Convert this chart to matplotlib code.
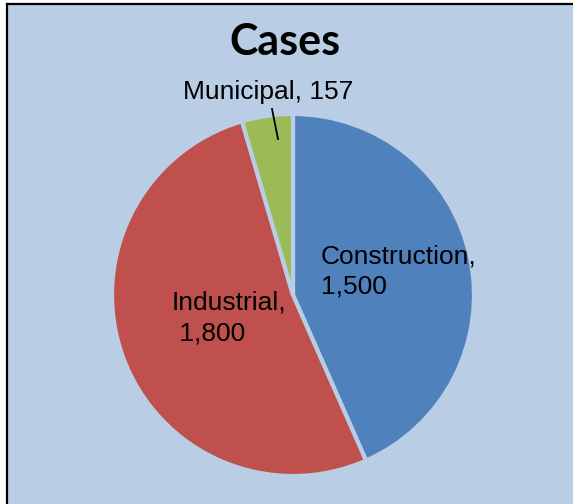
import matplotlib
matplotlib.use("Agg")
import matplotlib.pyplot as plt
from matplotlib.patches import Rectangle
from matplotlib.lines import Line2D

# data
categories = ["Construction", "Industrial", "Municipal"]
cases = [1500, 1800, 157]
value_labels = ["1,500", "1,800", "157"]
colors = ["#4F81BD", "#C0504D", "#9BBB59"]
bg = "#B9CDE5"

W, H = 573, 504
fig = plt.figure(figsize=(W / 100, H / 100), dpi=100)
fig.patch.set_facecolor("white")

# chart area background with border on top and left (right/bottom cut off)
fig.patches.append(Rectangle((7 / W, 0), 1, 1 - 4 / H, transform=fig.transFigure,
                             facecolor=bg, edgecolor="none", zorder=-5))
fig.lines.append(Line2D([7 / W, 1], [1 - 4 / H, 1 - 4 / H], transform=fig.transFigure,
                        color="black", lw=1.6, zorder=-4))
fig.lines.append(Line2D([7 / W, 7 / W], [0, 1 - 4 / H], transform=fig.transFigure,
                        color="black", lw=1.6, zorder=-4))

# pie axes: center (293, 295) px, radius 181 px
cx, cy, r = 293, 295, 181
ax = fig.add_axes([(cx - r) / W, (H - cy - r) / H, 2 * r / W, 2 * r / H])
ax.set_facecolor("none")
ax.pie(cases, colors=colors, startangle=90, counterclock=False, radius=1,
       wedgeprops=dict(edgecolor=bg, linewidth=3))
ax.set_xlim(-1, 1)
ax.set_ylim(-1, 1)
ax.set_aspect("equal")
ax.axis("off")

font = ["Liberation Sans", "DejaVu Sans"]
fs = 19
ax.text(0.155, 0.13, f"{categories[0]},\n{value_labels[0]}", ha="left", va="center",
        fontsize=fs, family=font, linespacing=1.32)
ax.text(-0.668, -0.127, f"{categories[1]},\n {value_labels[1]}", ha="left", va="center",
        fontsize=fs, family=font, linespacing=1.32)
ax.text(-0.138, 1.12, f"{categories[2]}, {value_labels[2]}", ha="center", va="center",
        fontsize=fs, family=font, clip_on=False)
ax.plot([-0.116, -0.083], [1.028, 0.862], color="black", lw=1.3, clip_on=False)

fig.text(285 / W, 1 - 42 / H, "Cases", ha="center", va="center",
         fontsize=31, fontweight="bold", family=["Lato", "DejaVu Sans"])

fig.savefig("out.png", dpi=100)
